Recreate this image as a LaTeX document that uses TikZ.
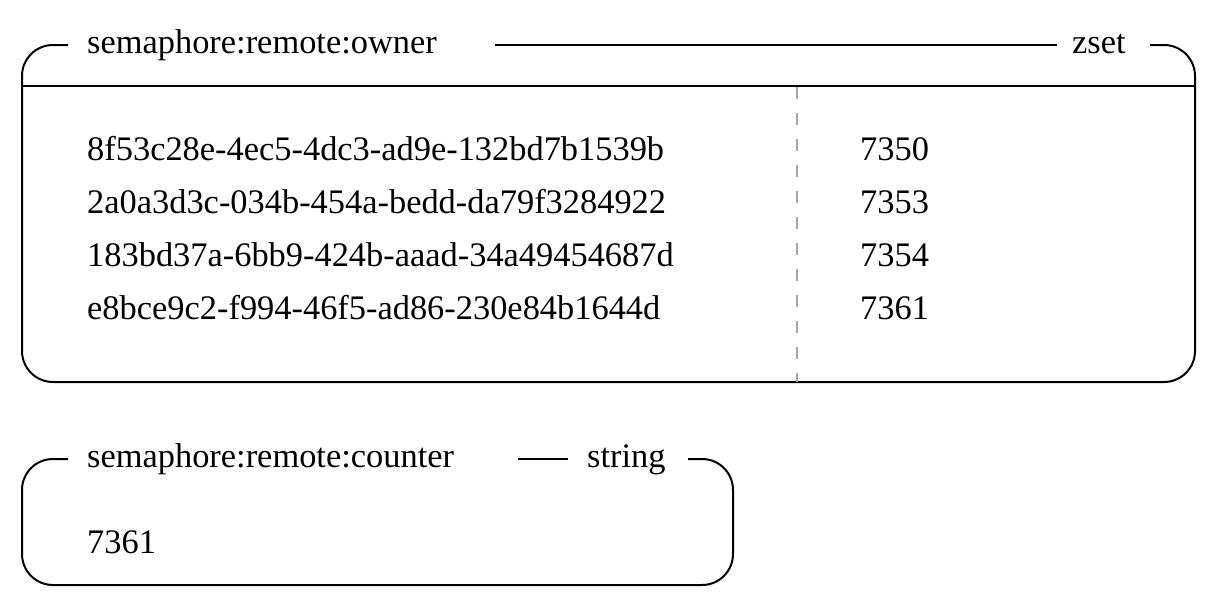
\documentclass[tikz,border=0pt]{standalone}
\usepackage{fontspec}
\setmainfont{Liberation Serif}
\begin{document}
\begin{tikzpicture}[x=1pt,y=-1pt,
  txt/.style={anchor=base west,inner sep=0pt,font=\fontsize{34.4}{40}\selectfont},
  frame/.style={line width=2pt,black,rounded corners=31pt},
  seg/.style={line width=2pt,black},
  divider/.style={line width=2pt,color=black!35,dash pattern=on 12pt off 14pt}]
\useasboundingbox (0,0) rectangle (1210,605);
% box 1
\node[txt] (t1) at (87,53) {semaphore:remote:owner};
\node[txt] (k1) at (1072,53) {zset};
\coordinate (a1) at (68,45);
\coordinate (a2) at (1150,45);
\coordinate (s1) at (495,45);
\coordinate (s2) at (1057,45);
\draw[frame] (a1) -- (22,45) -- (22,382) -- (1195,382) -- (1195,45) -- (a2);
\draw[seg] (s1) -- (s2);
\coordinate (h1) at (22,86);
\coordinate (h2) at (1195,86);
\draw[seg] (h1) -- (h2);
\coordinate (d1) at (797,87);
\coordinate (d2) at (797,382);
\draw[divider] (d1) -- (d2);
\node[txt] (r1) at (87,160) {8f53c28e-4ec5-4dc3-ad9e-132bd7b1539b};
\node[txt] (r2) at (87,213) {2a0a3d3c-034b-454a-bedd-da79f3284922};
\node[txt] (r3) at (87,266) {183bd37a-6bb9-424b-aaad-34a49454687d};
\node[txt] (r4) at (87,319) {e8bce9c2-f994-46f5-ad86-230e84b1644d};
\node[txt] (v1) at (860,160) {7350};
\node[txt] (v2) at (860,213) {7353};
\node[txt] (v3) at (860,266) {7354};
\node[txt] (v4) at (860,319) {7361};
% box 2
\node[txt] (t2) at (87,467) {semaphore:remote:counter};
\node[txt] (k2) at (587,467) {string};
\coordinate (b1) at (68,459);
\coordinate (b2) at (688,459);
\coordinate (u1) at (518,459);
\coordinate (u2) at (568,459);
\draw[frame] (b1) -- (22,459) -- (22,585) -- (733,585) -- (733,459) -- (b2);
\draw[seg] (u1) -- (u2);
\node[txt] (c1) at (87,553) {7361};
\end{tikzpicture}
\end{document}
